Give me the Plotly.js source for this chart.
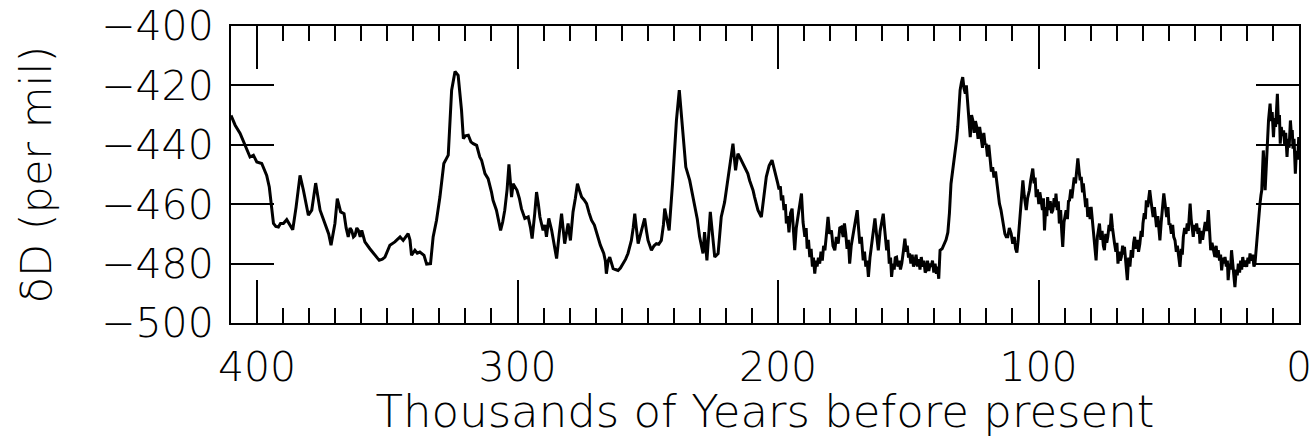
<!DOCTYPE html>
<html>
<head>
<meta charset="utf-8">
<script src="https://cdn.plot.ly/plotly-3.0.1.min.js"></script>
<style>html,body{margin:0;padding:0;background:#fff;}#chart{width:1311px;height:438px;}</style>
</head>
<body>
<div id="chart"></div>
<script>
// Vostok deuterium record: [age (kyr BP), deltaD (per mil)]
const seg410to330 = [
[410,-430.1],[408.4,-433.4],[406.5,-436.2],[404.6,-440.2],[402.7,-444.1],[401.4,-443.5],[400.1,-445.8],
[398.2,-446.3],[396.3,-450.3],[395.3,-454.2],[394.4,-460.9],[393.7,-466.5],[392.8,-467.5],[391.8,-467.7],
[391,-466.5],[389.9,-466.5],[388.6,-465.2],[387.5,-467],[386.3,-468.6],[385,-460.9],[383.5,-450.3],
[382.2,-455.3],[381.2,-460],[380.3,-463.7],[379,-462],[377.5,-452.9],[375.8,-462],[373.9,-466.5],
[372.5,-470],[371.6,-473.8],[370.7,-468.8],[370.1,-466.5],[369.2,-458.1],[368.5,-461],[367.9,-462.6],
[366.6,-463.2],[365.8,-468],[365,-471],[364.3,-468],[363.7,-468.8],[363,-471],[362.4,-470.5],[361.7,-468],
[361.1,-468.8],[360.4,-471],[359.8,-468.8],[358.6,-472.7],[356.7,-475],[354.7,-477.2],[353.1,-478.9],
[351.9,-478.5],[350.9,-477.8],[349,-473.8],[347.1,-472.7],[345.1,-471],[343.9,-472.2],[342,-469.9],
[341.3,-472],[340.7,-477.2],[339.4,-475.5],[338.5,-476.5],[337.5,-476.1],[335.9,-477.2],[334.9,-480.2],
[333.4,-480],[332.4,-471],[331.1,-465.4]
];
const seg330to200 = [
[329.8,-457.6],[328.3,-446.3],[326.6,-443.5],[325.3,-421.6],[324,-415.3],[322.8,-416.6],[321.5,-428.4],
[320.8,-437.9],[320,-437],[318.9,-436.8],[317.9,-439],[317,-439.6],[315.7,-440.2],[314.5,-444.1],
[313.8,-445.2],[312.5,-449.7],[311.3,-451.4],[310,-455.9],[309.4,-458.7],[308.1,-462],[306.5,-468.8],
[305.7,-466],[304.9,-462],[304,-455],[303.3,-446.6],[302.8,-452],[302.3,-457.6],[301.7,-453.1],
[300.2,-455.3],[299.3,-458],[298.5,-461.5],[297.2,-464.8],[295.9,-464.3],[295,-468],[294.4,-471.6],
[293.4,-463.2],[292.7,-455.9],[292,-460],[291.4,-464.3],[290.2,-468.8],[289.5,-467],[288.9,-471],
[288,-464.8],[286.9,-468.8],[286,-474],[285,-478.3],[284,-470],[283.1,-463.2],[281.9,-473.3],
[280.6,-466.5],[279.7,-472.2],[278.7,-462.6],[277.8,-458],[277,-453.1],[276,-456],[275.4,-457.6],
[274.5,-458.5],[273.5,-459.8],[272.5,-463],[271.6,-465.4],[270.5,-467],[269.7,-469.4],[268.2,-473.8],
[266.9,-476.6],[266.3,-479],[265.9,-483.4],[265.2,-479],[264.6,-477.8],[263.9,-480],[263.3,-481.7],
[262.4,-482],[261.4,-482.3],[260.5,-481.5],[259.5,-480],[258.5,-478.5],[257.6,-476.6],[256.3,-472.2],
[255.6,-468],[255,-463.2],[254.4,-468],[253.7,-473.3],[252.4,-468.8],[251.2,-464.8],[250.5,-469],
[249.9,-472.2],[248.6,-475.5],[247.6,-474],[246.7,-473.3],[245.8,-473.5],[244.8,-472.2],[244,-467],
[243.5,-461.5],[242.5,-466],[241.8,-468.8],[240.5,-453.1],[239.7,-440],[239,-431.8],[237.9,-421.6],
[237,-430.6],[236.2,-440],[235.4,-447.5],[233.9,-452],[232,-459.8],[231,-465],[230.1,-471],
[228.8,-476.6],[228.2,-469.4],[227.3,-478.9],[226,-462.6],[225.2,-470],[224.3,-477.8],[223,-476.6],
[221.8,-464.3],[220.5,-459.3],[219.2,-450.8],[218.2,-444],[217.3,-439.6],[216.3,-448.6],[215.4,-443],
[214.5,-444.5],[213.5,-446.3],[212.8,-447.5],[211.6,-449.7],[210.9,-452],[209.6,-455.3],[209,-457.6],
[207.7,-462],[206.4,-464.3],[205.5,-458],[204.5,-450.8],[203.4,-447],[202.3,-445.2],[201.5,-448]
];
const seg200to100 = [
[200.6,-450.8],[200.1,-453],[199.6,-455],[199.1,-454],[198.7,-458.7],[198.2,-457],[197.7,-462],[197.2,-460],
[196.8,-466.5],[196.3,-464],[195.8,-469.5],[195.2,-463],[194.6,-461.5],[194.1,-470],[193.6,-475.5],[193,-468],
[192.3,-464.3],[191.7,-461],[191,-456.4],[190.4,-466],[189.7,-471],[189.2,-468],[188.8,-475],[188.3,-472],
[187.8,-477.8],[187.3,-475],[186.8,-481],[186.4,-478],[185.9,-483.4],[185.4,-479],[185,-481],[184.5,-478],
[184,-480],[183.5,-476],[183,-479],[182.5,-474],[182,-475.5],[181.4,-470],[180.8,-464.3],[180.2,-470],
[179.5,-468.8],[178.9,-474],[178.2,-475.5],[177.6,-471],[176.9,-473.3],[176.3,-468],[175.7,-467.7],[175,-471],
[174.5,-466.5],[174,-470],[173.5,-475],[173,-472],[172.5,-480],[171.9,-474],[171.2,-469.9],[170.5,-466],
[169.6,-462],[169.1,-468],[168.6,-473.3],[168,-471],[167.3,-478.9],[166.8,-476],[166.3,-481],[165.8,-479],
[165.3,-484.5],[164.7,-478],[164,-473.3],[163.4,-470],[162.8,-464.8],[162.2,-470],[161.5,-475.5],[160.8,-469],
[160.2,-466],[159.6,-463.2],[159,-469],[158.3,-475.5],[157.8,-472],[157.3,-480],[156.8,-478],[156.4,-484.5],
[155.9,-480],[155.4,-482],[155,-478],[154.5,-477.8],[154,-481],[153.5,-479],[153,-482],[152.5,-480],
[151.9,-476],[151.3,-471.6],[150.8,-476],[150.4,-474],[149.9,-478],[149.5,-476.6],[149,-480],[148.5,-477],
[148,-481],[147.6,-480],[147,-477],[146.5,-481],[146,-478.5],[145.5,-482],[145,-477.8],[144.5,-481],
[144,-479],[143.5,-483],[143.1,-482.3],[142.6,-479],[142.1,-482.5],[141.6,-480],[141.2,-481.1],[140.7,-479],
[140.2,-483],[139.7,-480],[139.2,-483.4],[138.8,-481],[138.3,-485.1],[137.8,-475.5],[137,-475],[136.1,-473.3],
[135.5,-472],[134.8,-469.5],[134.2,-463],[133.6,-453.1],[132.8,-448],[131.9,-443],[131.4,-438],[131,-434],
[130.6,-427],[130.1,-421.6],[129.6,-419],[129.1,-417.2],[128.6,-421],[128.1,-422.8],[127.7,-420],[127.2,-425],
[126.8,-431],[126.2,-437.4],[125.7,-430],[125.2,-431.8],[124.7,-436],[124.2,-432],[123.7,-434],[123.2,-438],
[122.6,-434],[122,-437.4],[121.5,-441],[121,-436],[120.5,-440],[120.1,-439.6],[119.6,-444],[119.1,-440],
[118.6,-444.1],[118.1,-449],[117.6,-447.5],[117.1,-451],[116.5,-449],[116,-453.1],[115.5,-456],[115,-459.8],
[114.4,-462],[113.9,-465],[113.4,-467],[112.9,-470],[112.4,-471],[111.8,-471],[111.2,-468],[110.5,-469.9],
[109.9,-473.3],[109.3,-471],[108.8,-475],[108.3,-476.3],[107.8,-472],[107.3,-466.5],[106.7,-458],[106.3,-455],
[106,-452],[105.5,-457],[104.7,-462],[104.2,-458],[103.5,-455.3],[103,-452],[102.5,-449],[102.2,-448],
[101.7,-453],[101.3,-451],[100.9,-457.6],[100.4,-455]
];
const seg100to0 = [
[99.9,-460],[99.5,-456],[99,-458.7],[98.5,-462],[98.1,-458],[97.7,-468.8],[97.2,-461],[96.8,-464],
[96.5,-457.6],[96,-462],[95.5,-459],[95,-463],[94.5,-462],[94,-458],[93.6,-461],[93.3,-456.4],
[92.8,-462],[92.4,-459],[92,-466.5],[91.5,-462],[91.1,-469],[90.7,-474.4],[90.2,-466],[89.8,-463],
[89.4,-462],[88.9,-465],[88.5,-459],[88.1,-458.7],[87.6,-455],[87.2,-458],[86.8,-454.2],[86.3,-451],
[85.8,-453],[85.3,-448],[84.9,-444.6],[84.4,-449],[84,-452],[83.6,-450.8],[83.1,-456],[82.8,-453],
[82.4,-457.6],[81.9,-461],[81.5,-458],[81.1,-464.3],[80.6,-461],[80.2,-465],[79.8,-460.9],[79.3,-466],
[78.9,-469],[78.5,-473.3],[77.9,-478.9],[77.4,-471],[77,-468],[76.6,-466.5],[76.1,-472],[75.6,-469],
[75.1,-474],[74.7,-475.5],[74.2,-470],[73.8,-473],[73.4,-471],[72.9,-467],[72.5,-469],[72.1,-463.2],
[71.6,-468],[71.2,-470],[70.8,-473.3],[70.3,-476],[69.9,-473],[69.5,-480],[69,-476],[68.6,-479],
[68.2,-477.8],[67.7,-474],[67.3,-477],[67,-474.4],[66.5,-479],[65.9,-485.6],[65.4,-478],[64.9,-481],
[64.4,-475.5],[63.9,-478],[63.5,-473],[63.1,-471],[62.6,-475],[62.1,-472],[61.6,-476],[61.1,-473.3],
[60.6,-469],[60.2,-471],[59.9,-466.5],[59.4,-463],[59,-465],[58.6,-458.7],[58.1,-461],[57.7,-457],
[57.3,-455.3],[56.8,-459],[56.4,-461],[56,-464.3],[55.5,-461],[55.1,-466],[54.7,-467.7],[54.2,-464],
[53.8,-469],[53.4,-472.2],[52.9,-466],[52.4,-462],[51.9,-456.4],[51.4,-460],[51.1,-462],[50.8,-464.3],
[50.3,-461],[49.9,-467],[49.5,-466.5],[49,-470],[48.5,-467],[48.1,-471],[47.6,-472.2],[47.1,-476],
[46.7,-474],[46.2,-478],[45.7,-481.1],[45.2,-475],[44.8,-477],[44.4,-471],[43.9,-468],[43.4,-470],
[42.9,-466.5],[42.5,-469],[42.1,-462],[41.8,-459.8],[41.4,-465],[41,-468],[40.6,-471],[40.1,-467],
[39.7,-469],[39.3,-466.5],[38.8,-470],[38.4,-468],[38,-473.3],[37.5,-469],[37,-472],[36.5,-468.8],
[36,-466],[35.4,-469],[34.8,-462],[34.4,-468],[33.9,-475.5],[33.4,-473],[32.8,-476],[32.3,-477.8],
[31.8,-474],[31.4,-478],[31,-475.5],[30.5,-479],[30.1,-477],[29.7,-482.3],[29.2,-478],[28.8,-480],
[28.4,-477.8],[27.9,-481],[27.5,-479],[27.2,-485.6],[26.7,-480],[26.3,-482],[25.9,-475.5],[25.4,-481],
[25,-484],[24.6,-487.9],[24.1,-482],[23.7,-484],[23.3,-480],[22.8,-483],[22.4,-479],[22,-482],
[21.6,-477.8],[21.1,-481],[20.6,-479],[20.1,-481.1],[19.6,-478],[19.2,-480],[18.8,-476.6],[18.3,-479],
[17.8,-477],[17.3,-481],[16.9,-480],[16.3,-473],[15.6,-466.5],[15,-460],[14.6,-457],[14.3,-455.3],
[13.7,-441.9],[13.3,-449],[13,-455.3],[12.6,-448],[12.2,-440],[11.7,-431.8],[11.1,-426.1],[10.7,-432],
[10.3,-429],[9.8,-437.4],[9.4,-431],[9,-434],[8.6,-428],[8.3,-422.8],[7.9,-433],[7.5,-430],
[7.2,-439.6],[6.8,-434],[6.4,-437],[5.9,-435.1],[5.5,-440],[5.1,-436],[4.6,-444.1],[4.2,-438],
[3.8,-441],[3.3,-431.8],[2.9,-437],[2.6,-435],[2.3,-441.3],[1.9,-438],[1.4,-449.7],[1,-442],
[0.5,-445],[0.1,-437.4]
];
const xTickVals = [400, 300, 200, 100, 0];
const xTickText = ['400', '300', '200', '100', '0'];
const yTickVals = [-400, -420, -440, -460, -480, -500];
const xTitle = 'Thousands of Years before present';
const yTitle = 'δD (per mil)';

const allPts = seg410to330.concat(seg330to200, seg200to100, seg100to0);
const ageKyr = allPts.map(p => p[0]);
const deltaD = allPts.map(p => p[1]);

const FONT = 'DejaVu Sans, Verdana, sans-serif';
const trace = {
  x: ageKyr, y: deltaD, type: 'scatter', mode: 'lines',
  line: {color: '#000', width: 3}, hoverinfo: 'skip'
};
const layout = {
  width: 1311, height: 438,
  margin: {l: 231, r: 12, t: 26, b: 115},
  paper_bgcolor: '#fff', plot_bgcolor: '#fff',
  showlegend: false,
  font: {family: FONT, color: '#000', size: 41, weight: 200},
  xaxis: {
    range: [410, 0], tickmode: 'array', tickvals: xTickVals, ticktext: xTickText,
    ticks: 'inside', ticklen: 43, tickwidth: 2, tickcolor: '#000',
    minor: {dtick: 10, ticks: 'inside', ticklen: 15, tickwidth: 2, tickcolor: '#000', showgrid: false},
    showline: true, linewidth: 2, linecolor: '#000', mirror: 'ticks',
    showgrid: false, zeroline: false,
    tickfont: {family: FONT, size: 41, color: '#000', weight: 200},
    ticklabelstandoff: 7, ticklabeloverflow: 'allow',
    title: {text: xTitle, font: {family: FONT, size: 45, color: '#000', weight: 200}, standoff: 19}
  },
  yaxis: {
    range: [-500, -400], tickmode: 'array', tickvals: yTickVals,
    ticks: 'inside', ticklen: 43, tickwidth: 2, tickcolor: '#000',
    showline: true, linewidth: 2, linecolor: '#000', mirror: 'ticks',
    showgrid: false, zeroline: false,
    tickfont: {family: FONT, size: 41, color: '#000', weight: 200},
    ticklabelstandoff: 7,
    title: {text: yTitle, font: {family: FONT, size: 43, color: '#000', weight: 200}, standoff: 36}
  }
};
Plotly.newPlot('chart', [trace], layout, {staticPlot: true, displayModeBar: false});
</script>
</body>
</html>
